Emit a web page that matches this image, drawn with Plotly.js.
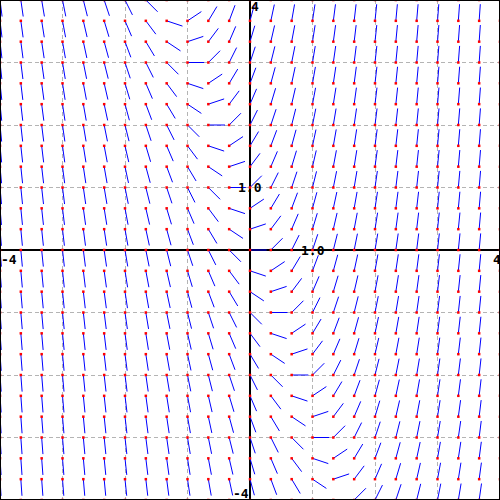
<!DOCTYPE html>
<html>
<head>
<meta charset="utf-8">
<script src="https://cdn.plot.ly/plotly-3.0.1.min.js"></script>
<style>html,body{margin:0;padding:0;background:#fff;}#chart{width:500px;height:500px;}</style>
</head>
<body>
<div id="chart"></div>
<script>
// Sample points of the slope field (every 1/3 unit from -4 to 4)
const gridX = [-4, -11/3, -10/3, -3, -8/3, -7/3, -2, -5/3, -4/3, -1, -2/3, -1/3, 0,
               1/3, 2/3, 1, 4/3, 5/3, 2, 7/3, 8/3, 3, 10/3, 11/3, 4];
const gridY = [-4, -11/3, -10/3, -3, -8/3, -7/3, -2, -5/3, -4/3, -1, -2/3, -1/3, 0,
               1/3, 2/3, 1, 4/3, 5/3, 2, 7/3, 8/3, 3, 10/3, 11/3, 4];
// Differential equation dy/dx = 3x + y
const slopeCoefX = 3;
const slopeCoefY = 1;
const segLength = 0.8 / 3;
const tickLabels = [
  {x: 0, y: 4, text: '4'},
  {x: 0, y: -4, text: '-4'},
  {x: -4, y: 0, text: '-4'},
  {x: 4, y: 0, text: '4'},
  {x: 1, y: 0, text: '1.0'},
  {x: 0, y: 1, text: '1.0'}
];

const lx = [], ly = [], px = [], py = [];
for (const x of gridX) {
  for (const y of gridY) {
    const m = slopeCoefX * x + slopeCoefY * y;
    const d = Math.sqrt(1 + m * m);
    const dx = segLength / d, dy = segLength * m / d;
    lx.push(x, x + dx, null);
    ly.push(y, y + dy, null);
    px.push(x); py.push(y);
  }
}

const traces = [
  {x: lx, y: ly, type: 'scatter', mode: 'lines', line: {color: '#0000ff', width: 1}, hoverinfo: 'skip'},
  {x: px, y: py, type: 'scatter', mode: 'markers', marker: {color: '#ff0000', size: 2.5, symbol: 'square', line: {width: 0}}, hoverinfo: 'skip'}
];

const fontSpec = {family: 'DejaVu Sans Mono', size: 13, color: '#000'};
const anchors = [
  {xanchor: 'left', yanchor: 'top', xshift: 0, yshift: 2},
  {xanchor: 'right', yanchor: 'bottom', xshift: 0, yshift: -2},
  {xanchor: 'left', yanchor: 'top', xshift: 0, yshift: -1},
  {xanchor: 'right', yanchor: 'top', xshift: 2, yshift: -1},
  {xanchor: 'center', yanchor: 'middle', xshift: 0, yshift: 0},
  {xanchor: 'center', yanchor: 'middle', xshift: 0, yshift: 0}
];
const annotations = tickLabels.map((t, i) => Object.assign({
  x: t.x, y: t.y, xref: 'x', yref: 'y', text: '<b>' + t.text + '</b>', showarrow: false,
  font: fontSpec, borderpad: 0
}, anchors[i]));

const axisCommon = {
  range: [-4, 4], showticklabels: false, ticks: '',
  dtick: 1, tick0: 0,
  showgrid: true, gridcolor: '#b4b4b4', gridwidth: 1, griddash: '4px,3px',
  zeroline: true, zerolinecolor: '#000', zerolinewidth: 1.5,
  showline: false, fixedrange: true
};

const layout = {
  width: 500, height: 500,
  margin: {l: 0, r: 0, t: 0, b: 0, pad: 0},
  paper_bgcolor: '#fff', plot_bgcolor: '#fff',
  showlegend: false,
  xaxis: Object.assign({}, axisCommon),
  yaxis: Object.assign({}, axisCommon),
  annotations: annotations,
  shapes: [{type: 'rect', xref: 'paper', yref: 'paper', x0: 0, x1: 1, y0: 0, y1: 1,
            line: {color: '#000', width: 2}, layer: 'above'}]
};

Plotly.newPlot('chart', traces, layout, {staticPlot: true, displayModeBar: false});
</script>
</body>
</html>
